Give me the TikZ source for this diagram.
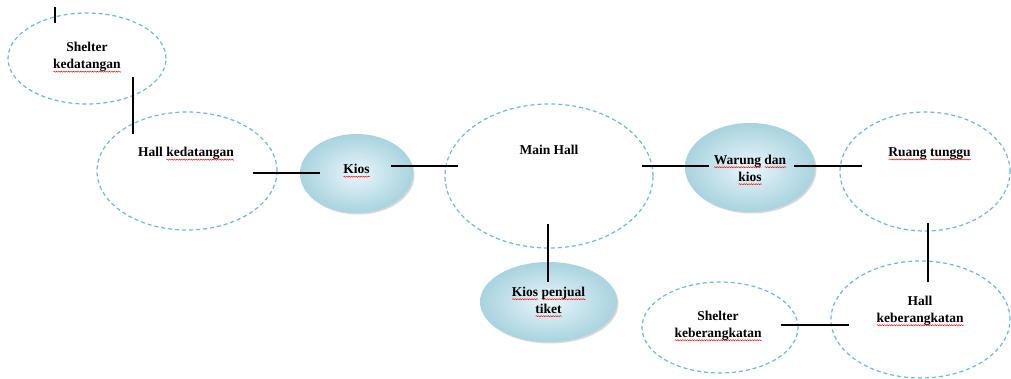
\documentclass[tikz,border=0pt]{standalone}
\usepackage{fontspec}
\setmainfont{Liberation Serif}
\usetikzlibrary{shapes.geometric,shadows,decorations.pathmorphing}
\newsavebox\sqbox
\newcommand\squig[1]{\sbox\sqbox{#1}\rlap{\tikz[baseline=0pt]\draw[red,line width=0.45pt,solid,decorate,decoration={snake,amplitude=0.55pt,segment length=2.4pt}] (0pt,-2.8pt) -- (\the\wd\sqbox,-2.8pt);}\usebox\sqbox}
\definecolor{zoneblue}{RGB}{112,185,210}
\definecolor{shopin}{RGB}{234,246,250}
\definecolor{shopout}{RGB}{168,211,223}
\tikzset{
  zone/.style={ellipse, draw=zoneblue, line width=1.2pt, dash pattern=on 4pt off 3pt, inner sep=0pt},
  shop/.style={ellipse, shading=radial, inner color=shopin, outer color=shopout,
    drop shadow={shadow xshift=1.5pt, shadow yshift=-1.5pt, opacity=0.3, fill=gray}, inner sep=0pt},
  lbl/.style={font=\fontsize{13.5}{17}\selectfont\bfseries, align=center, inner sep=0pt},
  link/.style={line width=2.8pt, black}
}
\begin{document}
\begin{tikzpicture}[x=1pt, y=-1pt]
\useasboundingbox (0,0) rectangle (1011,379);
\fill[white] (0,0) rectangle (1011,379);
% areas
\node[zone, minimum width=158pt, minimum height=91pt] (shelterK) at (87,58.5) {};
\node[zone, minimum width=180pt, minimum height=118pt] (hallK) at (187,171) {};
\node[shop, minimum width=113pt, minimum height=79pt] (kios) at (356.5,173.5) {};
\node[zone, minimum width=208pt, minimum height=144pt] (mainhall) at (549,176) {};
\node[shop, minimum width=130pt, minimum height=89pt] (warung) at (750,167.5) {};
\node[zone, minimum width=170pt, minimum height=119pt] (ruang) at (925,171.5) {};
\node[shop, minimum width=137pt, minimum height=80pt] (tiket) at (548.5,302) {};
\node[zone, minimum width=156pt, minimum height=91pt] (shelterB) at (720,327.5) {};
\node[zone, minimum width=179pt, minimum height=117pt] (hallB) at (920.5,319.5) {};
% labels
\node[lbl] (shelterKT) at (87,57.5) {Shelter\\\squig{kedatangan}};
\node[lbl] (hallKT) at (186,154) {Hall \squig{kedatangan}};
\node[lbl] (kiosT) at (356.5,171) {\squig{Kios}};
\node[lbl] (mainT) at (549,150) {Main Hall};
\node[lbl] (warungT) at (750,170) {\squig{Warung} \squig{dan}\\\squig{kios}};
\node[lbl] (ruangT) at (929.5,154) {\squig{Ruang} \squig{tunggu}};
\node[lbl] (tiketT) at (548.5,302) {\squig{Kios} \squig{penjual}\\\squig{tiket}};
\node[lbl] (shelterBT) at (718,326) {Shelter\\\squig{keberangkatan}};
\node[lbl] (hallBT) at (920,311) {Hall\\\squig{keberangkatan}};
% connector end points
\coordinate (c1a) at (55,7);    \coordinate (c1b) at (55,23);
\coordinate (c2a) at (133,77);  \coordinate (c2b) at (133,134);
\coordinate (c3a) at (253,173); \coordinate (c3b) at (320,173);
\coordinate (c4a) at (391,166); \coordinate (c4b) at (458,166);
\coordinate (c5a) at (642,166); \coordinate (c5b) at (709,166);
\coordinate (c6a) at (794,166); \coordinate (c6b) at (862,166);
\coordinate (c7a) at (548,224); \coordinate (c7b) at (548,282);
\coordinate (c8a) at (928,223); \coordinate (c8b) at (928,282);
\coordinate (c9a) at (781,325); \coordinate (c9b) at (849,325);
% connectors
\draw[link] (c1a) -- (c1b);
\draw[link] (c2a) -- (c2b);
\draw[link] (c3a) -- (c3b);
\draw[link] (c4a) -- (c4b);
\draw[link] (c5a) -- (c5b);
\draw[link] (c6a) -- (c6b);
\draw[link] (c7a) -- (c7b);
\draw[link] (c8a) -- (c8b);
\draw[link] (c9a) -- (c9b);
\end{tikzpicture}
\end{document}
